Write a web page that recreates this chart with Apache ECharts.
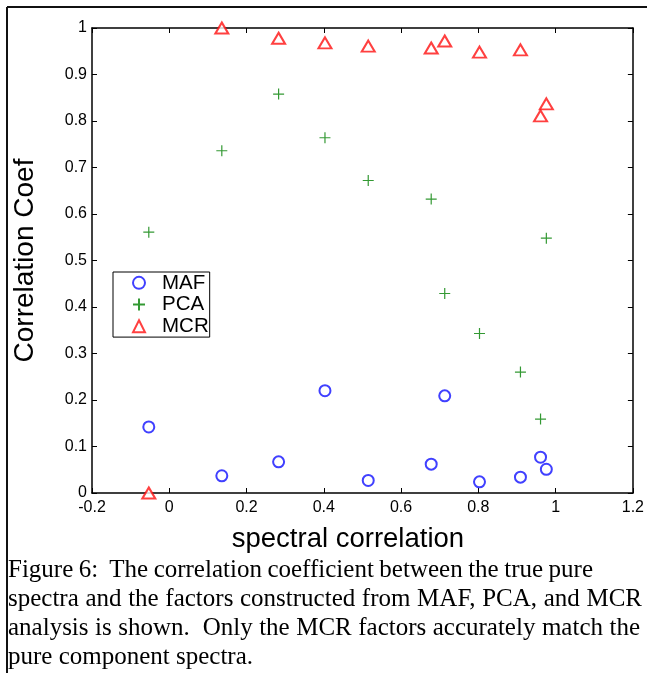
<!DOCTYPE html>
<html>
<head>
<meta charset="utf-8">
<script src="https://cdn.jsdelivr.net/npm/echarts@6/dist/echarts.min.js"></script>
<style>
  html, body { margin: 0; padding: 0; background: #fff; }
  #chart { width: 647px; height: 673px; }
</style>
</head>
<body>
<div id="chart"></div>
<script>
// spectral correlation for each factor (shared x)
const specCorr = [-0.053, 0.136, 0.283, 0.403, 0.515, 0.678, 0.713, 0.803, 0.909, 0.961, 0.976]
const mafCoef = [0.142, 0.037, 0.067, 0.220, 0.027, 0.062, 0.209, 0.024, 0.034, 0.077, 0.051]
const pcaCoef = [0.561, 0.736, 0.858, 0.764, 0.672, 0.632, 0.429, 0.343, 0.260, 0.159, 0.548]
const mcrCoef = [0.000, 1.000, 0.978, 0.968, 0.961, 0.957, 0.972, 0.948, 0.953, 0.811, 0.837]
const xTicks = [-0.2, 1.2, 0.2]
const yTicks = [0, 1, 0.1]

const caption = [
  'Figure 6:  The correlation coefficient between the true pure',
  'spectra and the factors constructed from MAF, PCA, and MCR',
  'analysis is shown.  Only the MCR factors accurately match the',
  'pure component spectra.'
]

const sans = 'Liberation Sans, Arial, sans-serif'
const serif = 'Liberation Serif, Times New Roman, serif'
const pair = ys => specCorr.map((x, i) => [x, ys[i]])

// caption is justified like the printed page: spread words to each line's right edge
const capFont = 25
const capLeft = 8
const capRight = [593, 642, 640, null]
const capTop = 558
const capStep = 29
const ctx = document.createElement('canvas').getContext('2d')
ctx.font = capFont + 'px ' + serif
const captionTexts = []
caption.forEach((line, li) => {
  const words = line.split(' ')
  const widths = words.map(w => ctx.measureText(w).width)
  const total = widths.reduce((a, b) => a + b, 0)
  const space = ctx.measureText(' ').width
  const gap = capRight[li] == null ? space : (capRight[li] - capLeft - total) / (words.length - 1)
  let x = capLeft
  words.forEach((w, i) => {
    if (w) {
      captionTexts.push({
        type: 'text',
        x: x,
        y: capTop + li * capStep,
        style: { text: w, font: capFont + 'px ' + serif, fill: '#000', textVerticalAlign: 'top' }
      })
    }
    x += widths[i] + gap
  })
})

const myChart = echarts.init(document.getElementById('chart'))

const tickStyle = { show: true, inside: true, length: 5, lineStyle: { color: '#000', width: 1 } }
const lineStyle = { show: true, onZero: false, lineStyle: { color: '#000', width: 1.5 } }

const option = {
  animation: false,
  backgroundColor: '#fff',
  graphic: [
    { type: 'line', shape: { x1: 7, y1: 7, x2: 647, y2: 7 }, style: { stroke: '#111', lineWidth: 2 } },
    { type: 'line', shape: { x1: 7, y1: 7, x2: 7, y2: 673 }, style: { stroke: '#111', lineWidth: 2 } }
  ].concat(captionTexts),
  legend: {
    orient: 'vertical',
    left: 113,
    top: 272,
    padding: [0, 1, 0, 19],
    itemWidth: 12,
    itemHeight: 12,
    itemGap: 0,
    borderColor: '#000',
    borderWidth: 1,
    textStyle: { fontFamily: sans, fontSize: 20.5, color: '#000', lineHeight: 21.7, padding: [0, 0, 0, 12] },
    data: ['MAF', 'PCA', 'MCR']
  },
  grid: { left: 92, right: 12, top: 28, bottom: 180 },
  xAxis: [
    {
      type: 'value',
      min: xTicks[0],
      max: xTicks[1],
      interval: xTicks[2],
      name: 'spectral correlation',
      nameLocation: 'middle',
      nameGap: 32,
      nameTextStyle: { fontFamily: sans, fontSize: 27.5, color: '#000', padding: [0, 29, 0, 0] },
      axisLine: lineStyle,
      axisTick: tickStyle,
      axisLabel: { fontFamily: sans, fontSize: 16, color: '#000', margin: 7 },
      splitLine: { show: false }
    },
    {
      type: 'value',
      position: 'top',
      min: xTicks[0],
      max: xTicks[1],
      interval: xTicks[2],
      axisLine: lineStyle,
      axisTick: tickStyle,
      axisLabel: { show: false },
      splitLine: { show: false }
    }
  ],
  yAxis: [
    {
      type: 'value',
      min: yTicks[0],
      max: yTicks[1],
      interval: yTicks[2],
      name: 'Correlation Coef',
      nameLocation: 'middle',
      nameGap: 53,
      nameTextStyle: { fontFamily: sans, fontSize: 28, color: '#000' },
      axisLine: lineStyle,
      axisTick: tickStyle,
      axisLabel: { fontFamily: sans, fontSize: 16, color: '#000', margin: 5 },
      splitLine: { show: false }
    },
    {
      type: 'value',
      position: 'right',
      min: yTicks[0],
      max: yTicks[1],
      interval: yTicks[2],
      axisLine: lineStyle,
      axisTick: tickStyle,
      axisLabel: { show: false },
      splitLine: { show: false }
    }
  ],
  series: [
    {
      name: 'MAF',
      type: 'scatter',
      symbol: 'emptyCircle',
      symbolSize: 11,
      itemStyle: { color: '#1010ff', borderColor: '#1010ff', borderWidth: 1.2 },
      data: pair(mafCoef)
    },
    {
      name: 'PCA',
      type: 'scatter',
      symbol: 'path://M0,5L10,5M5,0L5,10',
      symbolSize: 11,
      itemStyle: { color: 'rgba(0,0,0,0)', borderColor: '#008000', borderWidth: 1.2 },
      data: pair(pcaCoef)
    },
    {
      name: 'MCR',
      type: 'scatter',
      symbol: 'emptyTriangle',
      symbolSize: [13, 11],
      itemStyle: { color: '#ff1010', borderColor: '#ff1010', borderWidth: 1.2 },
      data: pair(mcrCoef)
    }
  ]
}

myChart.setOption(option)
window.addEventListener('resize', () => myChart.resize())
</script>
</body>
</html>
